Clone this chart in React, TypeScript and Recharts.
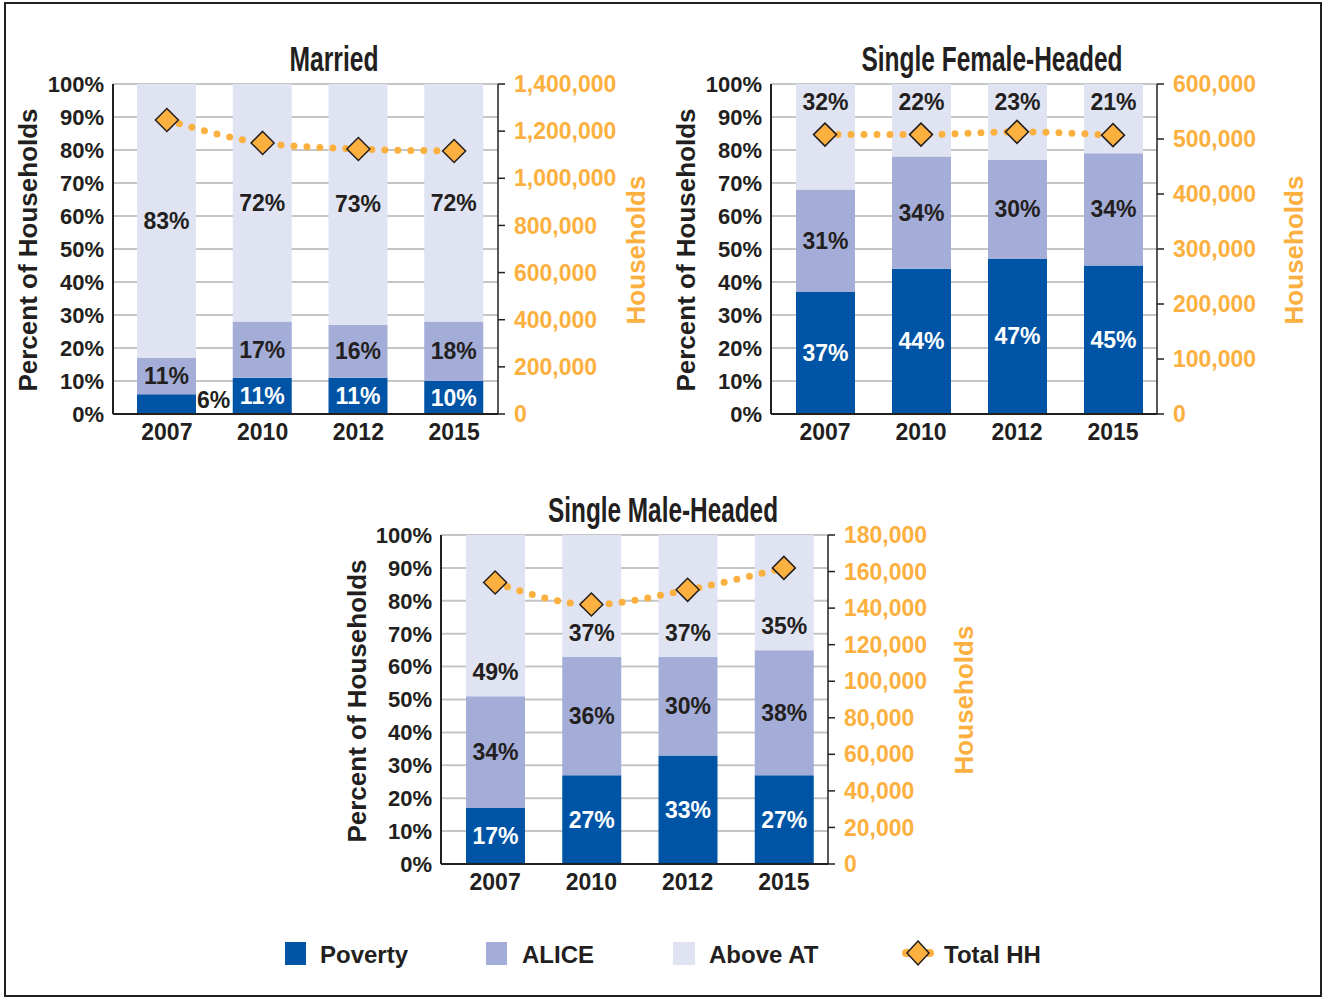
import React from "react";
import {
  ComposedChart,
  Bar,
  Line,
  XAxis,
  YAxis,
  CartesianGrid,
  LabelList,
} from "recharts";

const years = ["2007", "2010", "2012", "2015"];
const pctTicks = [0, 10, 20, 30, 40, 50, 60, 70, 80, 90, 100];

const marriedPoverty = [6, 11, 11, 10];
const marriedAlice = [11, 17, 16, 18];
const marriedAbove = [83, 72, 73, 72];
const marriedTotal = [1247000, 1150000, 1124000, 1116000];
const marriedTicks = [0, 200000, 400000, 600000, 800000, 1000000, 1200000, 1400000];

const femalePoverty = [37, 44, 47, 45];
const femaleAlice = [31, 34, 30, 34];
const femaleAbove = [32, 22, 23, 21];
const femaleTotal = [508000, 508000, 513000, 507000];
const femaleTicks = [0, 100000, 200000, 300000, 400000, 500000, 600000];

const malePoverty = [17, 27, 33, 27];
const maleAlice = [34, 36, 30, 38];
const maleAbove = [49, 37, 37, 35];
const maleTotal = [154000, 142000, 150000, 162000];
const maleTicks = [0, 20000, 40000, 60000, 80000, 100000, 120000, 140000, 160000, 180000];

const POVERTY = "#0054a6";
const ALICE = "#a3add8";
const ABOVE = "#e0e3f2";
const ORANGE = "#fbb040";
const DARK = "#231f20";
const GRID = "#c4c5c7";
const SANS = "'Liberation Sans', Arial, Helvetica, sans-serif";

const rowsOf = (pov: number[], alice: number[], above: number[], total: number[]) =>
  years.map((year, i) => ({
    year,
    poverty: pov[i],
    alice: alice[i],
    above: above[i],
    total: total[i],
  }));

const segLabel = (color: string, place: string) => (p: any) => {
  const v = Number(p.value);
  if (!v) return null;
  const x = Number(p.x);
  const w = Number(p.width);
  const y0 = Math.min(Number(p.y), Number(p.y) + Number(p.height));
  const h = Math.abs(Number(p.height));
  let tx = x + w / 2;
  let ty = y0 + h / 2;
  let anchor = "middle";
  let fill = color;
  if (place === "top") ty = y0 + 18;
  if (place === "bottom") ty = y0 + h - 24;
  if (place === "center" && h < 26) {
    // too small to hold its label: put it beside the bar
    tx = x + w + 1;
    ty = y0 + h / 2 - 4;
    anchor = "start";
    fill = DARK;
  }
  return (
    <text
      x={tx}
      y={ty}
      textAnchor={anchor}
      dominantBaseline="central"
      fill={fill}
      fontSize={23}
      fontWeight={700}
      fontFamily={SANS}
    >
      {`${v}%`}
    </text>
  );
};

const renderDiamond = (p: any) => {
  const { cx, cy, index } = p;
  const s = 11.5;
  return (
    <polygon
      key={`d-${index}`}
      points={`${cx},${cy - s} ${cx + s},${cy} ${cx},${cy + s} ${cx - s},${cy}`}
      fill={ORANGE}
      stroke={DARK}
      strokeWidth={1.5}
    />
  );
};

const tickFont = { fontSize: 22, fontWeight: 700, fontFamily: SANS };

function Panel({
  left,
  top,
  rows,
  hhTicks,
  abovePlace,
  mr,
  mb,
}: {
  left: number;
  top: number;
  rows: any[];
  hhTicks: number[];
  abovePlace: string;
  mr: number;
  mb: number;
}) {
  return (
    <div style={{ position: "absolute", left, top }}>
      <ComposedChart
        width={660}
        height={460}
        data={rows}
        margin={{ top: 84, right: mr, bottom: mb, left: 40 }}
      >
        <CartesianGrid yAxisId="pct" vertical={false} stroke={GRID} strokeWidth={2} />
        <XAxis
          dataKey="year"
          height={40}
          padding={{ left: 6, right: -4 }}
          axisLine={{ stroke: DARK, strokeWidth: 2 }}
          tickLine={false}
          tickSize={0}
          tickMargin={10}
          tick={{ fill: DARK, fontSize: 23, fontWeight: 700, fontFamily: SANS }}
        />
        <YAxis
          yAxisId="pct"
          type="number"
          domain={[0, 100]}
          ticks={pctTicks}
          interval={0}
          tickFormatter={(v) => `${v}%`}
          width={73}
          axisLine={{ stroke: DARK, strokeWidth: 2 }}
          tickLine={false}
          tickSize={0}
          tickMargin={9}
          tick={{ fill: DARK, ...tickFont }}
        />
        <YAxis
          yAxisId="hh"
          orientation="right"
          type="number"
          domain={[0, hhTicks[hhTicks.length - 1]]}
          ticks={hhTicks}
          interval={0}
          tickFormatter={(v) => Number(v).toLocaleString("en-US")}
          width={120}
          axisLine={{ stroke: DARK, strokeWidth: 1.5 }}
          tickLine={{ stroke: DARK, strokeWidth: 1.5 }}
          tickSize={7}
          tickMargin={9}
          tick={{ fill: ORANGE, ...tickFont, fontSize: 23 }}
        />
        <Bar yAxisId="pct" dataKey="poverty" stackId="s" fill={POVERTY} barSize={59} isAnimationActive={false}>
          <LabelList dataKey="poverty" content={segLabel("#ffffff", "center")} />
        </Bar>
        <Bar yAxisId="pct" dataKey="alice" stackId="s" fill={ALICE} barSize={59} isAnimationActive={false}>
          <LabelList dataKey="alice" content={segLabel(DARK, "mid")} />
        </Bar>
        <Bar yAxisId="pct" dataKey="above" stackId="s" fill={ABOVE} barSize={59} isAnimationActive={false}>
          <LabelList dataKey="above" content={segLabel(DARK, abovePlace)} />
        </Bar>
        <Line
          yAxisId="hh"
          dataKey="total"
          type="monotone"
          stroke={ORANGE}
          strokeWidth={7}
          strokeDasharray="0 13"
          strokeLinecap="round"
          dot={renderDiamond}
          activeDot={false}
          isAnimationActive={false}
        />
      </ComposedChart>
    </div>
  );
}

const axisTitle = { fontSize: 26, fontWeight: 700, fontFamily: SANS };
const legendText = { fontSize: 24, fontWeight: 700, fontFamily: SANS, fill: DARK };

// condensed-looking panel title: regular bold face stretched vertically
function Title({ x, y, w, text }: { x: number; y: number; w: number; text: string }) {
  return (
    <text
      transform={`translate(${x} ${y}) scale(1 1.4)`}
      textAnchor="middle"
      dominantBaseline="central"
      fontFamily={SANS}
      fontWeight={700}
      fontSize={24.5}
      fill={DARK}
      textLength={w}
      lengthAdjust="spacingAndGlyphs"
    >
      {text}
    </text>
  );
}

export default function App() {
  return (
    <div style={{ position: "absolute", left: 0, top: 0, width: 1327, height: 998, background: "#fff" }}>
      <Panel
        left={0}
        top={0}
        rows={rowsOf(marriedPoverty, marriedAlice, marriedAbove, marriedTotal)}
        hhTicks={marriedTicks}
        abovePlace="mid"
        mr={42}
        mb={6}
      />
      <Panel
        left={658}
        top={0}
        rows={rowsOf(femalePoverty, femaleAlice, femaleAbove, femaleTotal)}
        hhTicks={femaleTicks}
        abovePlace="top"
        mr={41}
        mb={6}
      />
      <Panel
        left={328}
        top={451}
        rows={rowsOf(malePoverty, maleAlice, maleAbove, maleTotal)}
        hhTicks={maleTicks}
        abovePlace="bottom"
        mr={40}
        mb={7}
      />
      <svg
        width={1327}
        height={998}
        style={{ position: "absolute", left: 0, top: 0, pointerEvents: "none" }}
      >
        <rect x={5} y={3} width={1316} height={993} fill="none" stroke={DARK} strokeWidth={2} />

        <Title x={334} y={59} w={89} text="Married" />
        <Title x={992} y={59} w={261} text="Single Female-Headed" />
        <Title x={663} y={510} w={230} text="Single Male-Headed" />

        <g textAnchor="middle" dominantBaseline="central" {...axisTitle}>
          <text x={28} y={250} fill={DARK} transform="rotate(-90 28 250)">Percent of Households</text>
          <text x={686} y={250} fill={DARK} transform="rotate(-90 686 250)">Percent of Households</text>
          <text x={357} y={701} fill={DARK} transform="rotate(-90 357 701)">Percent of Households</text>
          <text x={636} y={250} fill={ORANGE} transform="rotate(-90 636 250)">Households</text>
          <text x={1294} y={250} fill={ORANGE} transform="rotate(-90 1294 250)">Households</text>
          <text x={964} y={700} fill={ORANGE} transform="rotate(-90 964 700)">Households</text>
        </g>

        <rect x={285} y={942} width={21} height={23} fill={POVERTY} />
        <text x={320} y={954} dominantBaseline="central" {...legendText}>Poverty</text>
        <rect x={486} y={942} width={21} height={23} fill={ALICE} />
        <text x={522} y={954} dominantBaseline="central" {...legendText}>ALICE</text>
        <rect x={673} y={942} width={22} height={23} fill={ABOVE} />
        <text x={709} y={954} dominantBaseline="central" {...legendText}>Above AT</text>
        <line x1={906} y1={953} x2={930} y2={953} stroke={ORANGE} strokeWidth={8} strokeLinecap="round" />
        <polygon points="918,941 929,953 918,965 907,953" fill={ORANGE} stroke={DARK} strokeWidth={1.5} />
        <text x={944} y={954} dominantBaseline="central" {...legendText}>Total HH</text>
      </svg>
    </div>
  );
}
